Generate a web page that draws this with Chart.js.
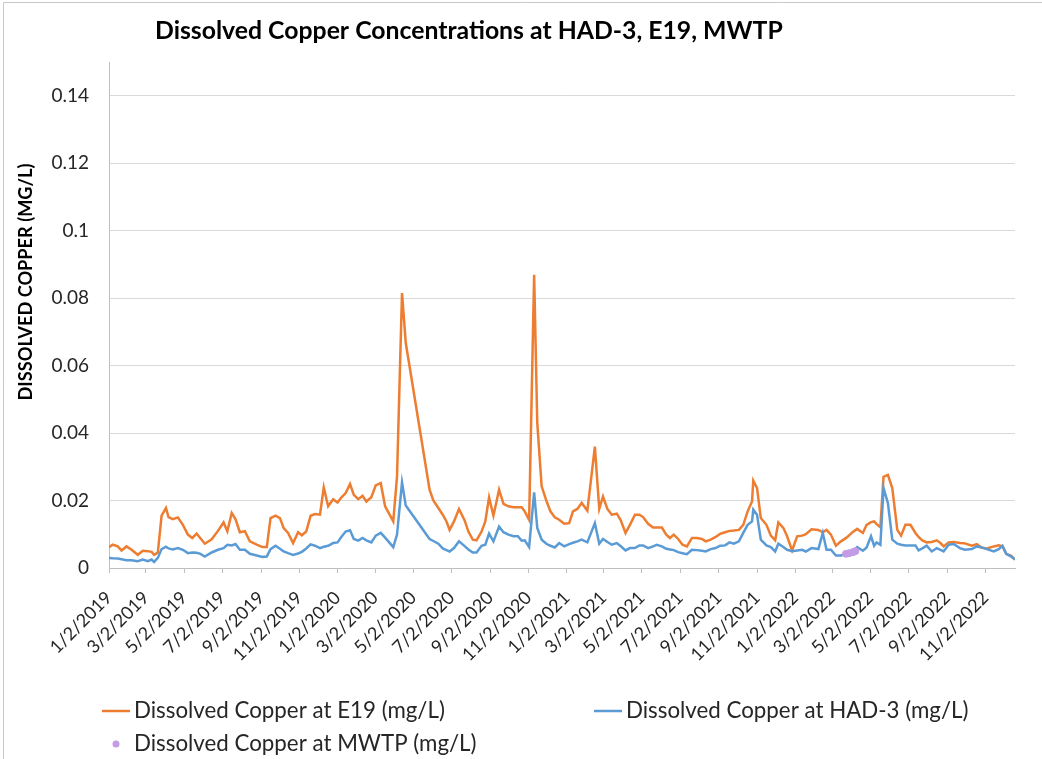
<!DOCTYPE html>
<html><head><meta charset="utf-8">
<script src="https://cdn.jsdelivr.net/npm/chart.js@4.4.1/dist/chart.umd.min.js"></script>
<style>html,body{margin:0;padding:0;background:#fff;} #wrap{width:1042px;height:759px;position:relative;}</style>
</head><body><div id="wrap"><canvas id="c" width="1042" height="759"></canvas></div>
<script>
const sampleDates = [
"2019-01-02","2019-01-08","2019-01-16","2019-01-22","2019-01-30","2019-02-07","2019-02-17","2019-02-25","2019-03-05","2019-03-11",
"2019-03-15","2019-03-21","2019-03-27","2019-04-03","2019-04-07","2019-04-14","2019-04-22","2019-04-30","2019-05-08","2019-05-15",
"2019-05-22","2019-05-28","2019-06-04","2019-06-15","2019-06-25","2019-07-04","2019-07-10","2019-07-17","2019-07-23","2019-07-30",
"2019-08-07","2019-08-15","2019-08-26","2019-09-04","2019-09-11","2019-09-17","2019-09-25","2019-10-02","2019-10-08","2019-10-15",
"2019-10-23","2019-10-31","2019-11-06","2019-11-13","2019-11-20","2019-11-27","2019-12-05","2019-12-11","2019-12-18","2019-12-26",
"2020-01-02","2020-01-08","2020-01-15","2020-01-22","2020-01-28","2020-02-04","2020-02-11","2020-02-17","2020-02-25","2020-03-03",
"2020-03-11","2020-03-18","2020-03-31","2020-04-06","2020-04-14","2020-04-20","2020-05-28","2020-06-03","2020-06-11","2020-06-18",
"2020-06-24","2020-06-29","2020-07-06","2020-07-14","2020-07-23","2020-07-29","2020-08-05","2020-08-11","2020-08-19","2020-08-25",
"2020-08-31","2020-09-07","2020-09-16","2020-09-23","2020-10-01","2020-10-09","2020-10-16","2020-10-22","2020-10-27","2020-11-03",
"2020-11-11","2020-11-16","2020-11-23","2020-12-01","2020-12-07","2020-12-14","2020-12-21","2020-12-29","2021-01-06","2021-01-12",
"2021-01-19","2021-01-26","2021-02-04","2021-02-16","2021-02-23","2021-03-01","2021-03-08","2021-03-15","2021-03-23","2021-03-29",
"2021-04-06","2021-04-13","2021-04-21","2021-04-28","2021-05-04","2021-05-12","2021-05-20","2021-05-26","2021-06-03","2021-06-10",
"2021-06-16","2021-06-22","2021-06-29","2021-07-06","2021-07-13","2021-07-21","2021-07-29","2021-08-06","2021-08-12","2021-08-20",
"2021-08-28","2021-09-04","2021-09-12","2021-09-19","2021-09-26","2021-10-04","2021-10-11","2021-10-18","2021-10-25","2021-10-27",
"2021-11-02","2021-11-08","2021-11-17","2021-11-24","2021-12-01","2021-12-06","2021-12-14","2021-12-20","2021-12-28","2022-01-05",
"2022-01-13","2022-01-19","2022-01-28","2022-02-08","2022-02-15","2022-02-21","2022-02-28","2022-03-08","2022-03-16","2022-03-25",
"2022-04-04","2022-04-11","2022-04-20","2022-04-26","2022-05-03","2022-05-08","2022-05-12","2022-05-18","2022-05-23","2022-05-30",
"2022-06-06","2022-06-14","2022-06-20","2022-06-27","2022-07-05","2022-07-13","2022-07-18","2022-07-24","2022-07-31","2022-08-08",
"2022-08-16","2022-08-22","2022-08-27","2022-09-04","2022-09-12","2022-09-22","2022-09-30","2022-10-11","2022-10-19","2022-10-27",
"2022-11-04","2022-11-15","2022-11-23","2022-11-29","2022-12-05","2022-12-13","2022-12-19"
];
const copperE19 = [
0.0062,0.0069,0.0064,0.0052,0.0064,0.0054,0.0039,0.0051,0.0050,0.0048,
0.0039,0.0046,0.0155,0.0178,0.0151,0.0145,0.0150,0.0128,0.0099,0.0089,
0.0102,0.0088,0.0072,0.0085,0.0110,0.0135,0.0109,0.0163,0.0145,0.0106,
0.0109,0.0079,0.0069,0.0062,0.0062,0.0148,0.0155,0.0148,0.0118,0.0104,
0.0074,0.0106,0.0097,0.0108,0.0155,0.0160,0.0158,0.0239,0.0183,0.0204,
0.0194,0.0209,0.0222,0.0249,0.0217,0.0204,0.0214,0.0197,0.0210,0.0245,
0.0252,0.0183,0.0138,0.0271,0.0815,0.0667,0.0232,0.0200,0.0178,0.0158,
0.0138,0.0113,0.0138,0.0175,0.0141,0.0108,0.0084,0.0082,0.0108,0.0138,
0.0209,0.0155,0.0232,0.0190,0.0183,0.0180,0.0180,0.0180,0.0168,0.0143,
0.0869,0.0430,0.0242,0.0197,0.0168,0.0150,0.0143,0.0131,0.0133,0.0168,
0.0175,0.0193,0.0170,0.0360,0.0175,0.0212,0.0175,0.0158,0.0161,0.0143,
0.0104,0.0128,0.0158,0.0158,0.0151,0.0131,0.0120,0.0120,0.0120,0.0099,
0.0089,0.0099,0.0086,0.0069,0.0064,0.0089,0.0089,0.0086,0.0079,0.0084,
0.0092,0.0101,0.0106,0.0110,0.0111,0.0113,0.0128,0.0168,0.0197,0.0259,
0.0237,0.0148,0.0128,0.0096,0.0082,0.0135,0.0119,0.0094,0.0052,0.0094,
0.0096,0.0100,0.0115,0.0113,0.0106,0.0113,0.0099,0.0066,0.0079,0.0090,
0.0107,0.0116,0.0104,0.0128,0.0136,0.0138,0.0130,0.0121,0.0270,0.0276,
0.0237,0.0113,0.0096,0.0128,0.0128,0.0104,0.0092,0.0082,0.0076,0.0077,
0.0082,0.0074,0.0064,0.0076,0.0077,0.0074,0.0073,0.0066,0.0071,0.0060,
0.0058,0.0064,0.0067,0.0064,0.0042,0.0036,0.0025
];
const copperHAD3 = [
0.0030,0.0029,0.0028,0.0026,0.0023,0.0023,0.0020,0.0025,0.0020,0.0025,
0.0018,0.0030,0.0056,0.0063,0.0058,0.0055,0.0059,0.0054,0.0044,0.0046,
0.0045,0.0042,0.0034,0.0046,0.0054,0.0059,0.0069,0.0067,0.0071,0.0054,
0.0054,0.0042,0.0037,0.0033,0.0034,0.0056,0.0066,0.0057,0.0049,0.0044,
0.0039,0.0043,0.0048,0.0058,0.0070,0.0066,0.0059,0.0063,0.0066,0.0074,
0.0076,0.0092,0.0108,0.0112,0.0086,0.0081,0.0089,0.0082,0.0076,0.0096,
0.0104,0.0090,0.0062,0.0099,0.0254,0.0185,0.0086,0.0080,0.0072,0.0058,
0.0053,0.0049,0.0059,0.0079,0.0065,0.0055,0.0046,0.0046,0.0066,0.0069,
0.0102,0.0079,0.0123,0.0106,0.0099,0.0094,0.0094,0.0081,0.0082,0.0062,
0.0224,0.0119,0.0084,0.0071,0.0066,0.0061,0.0074,0.0064,0.0071,0.0075,
0.0079,0.0084,0.0076,0.0133,0.0072,0.0086,0.0077,0.0069,0.0074,0.0065,
0.0052,0.0059,0.0059,0.0067,0.0067,0.0059,0.0064,0.0069,0.0064,0.0057,
0.0055,0.0053,0.0047,0.0044,0.0041,0.0054,0.0053,0.0051,0.0049,0.0056,
0.0059,0.0066,0.0067,0.0076,0.0072,0.0079,0.0104,0.0128,0.0138,0.0173,
0.0158,0.0084,0.0067,0.0062,0.0049,0.0072,0.0062,0.0054,0.0050,0.0052,
0.0054,0.0049,0.0059,0.0056,0.0104,0.0054,0.0054,0.0037,0.0037,0.0042,
0.0049,0.0062,0.0051,0.0061,0.0094,0.0066,0.0076,0.0069,0.0237,0.0193,
0.0084,0.0072,0.0069,0.0067,0.0067,0.0067,0.0052,0.0058,0.0066,0.0049,
0.0059,0.0054,0.0049,0.0069,0.0071,0.0059,0.0054,0.0056,0.0064,0.0061,
0.0056,0.0049,0.0056,0.0066,0.0042,0.0034,0.0025
];
const mwtpDates = ["2022-03-24","2022-03-29","2022-04-04","2022-04-08"];
const copperMWTP = [0.0042,0.0044,0.0047,0.0050];
const xTickLabels = ["1/2/2019","3/2/2019","5/2/2019","7/2/2019","9/2/2019","11/2/2019",
"1/2/2020","3/2/2020","5/2/2020","7/2/2020","9/2/2020","11/2/2020",
"1/2/2021","3/2/2021","5/2/2021","7/2/2021","9/2/2021","11/2/2021",
"1/2/2022","3/2/2022","5/2/2022","7/2/2022","9/2/2022","11/2/2022"];
const seriesNames = ["Dissolved Copper at E19 (mg/L)","Dissolved Copper at HAD-3 (mg/L)","Dissolved Copper at MWTP (mg/L)"];
const chartTitle = "Dissolved Copper Concentrations at HAD-3, E19, MWTP";
const yAxisTitle = "DISSOLVED COPPER (MG/L)";

const BASE = Date.UTC(2019,0,2);
function isoDay(s){const p=s.split('-').map(Number);return (Date.UTC(p[0],p[1]-1,p[2])-BASE)/864e5;}
function mdyDay(s){const p=s.split('/').map(Number);return (Date.UTC(p[2],p[0]-1,p[1])-BASE)/864e5;}

const ORANGE='#ED7D31', BLUE='#5B9BD5', PURPLE='#C39BE6';
const FONT='Lato';

function fitSize(ctx,text,weight,target){
  ctx.font=weight+' 20px '+FONT;
  const w=ctx.measureText(text).width;
  return 20*target/w;
}

const decor={
  id:'decor',
  afterDraw(chart){
    const ctx=chart.ctx;
    ctx.save();
    ctx.strokeStyle='#c8c8c8';ctx.lineWidth=1;
    ctx.beginPath();ctx.moveTo(3.5,759);ctx.lineTo(3.5,2.5);ctx.lineTo(1042,2.5);ctx.stroke();
    let s=fitSize(ctx,chartTitle,'bold',628);
    ctx.font='bold '+s+'px '+FONT;ctx.fillStyle='#000';ctx.textAlign='left';ctx.textBaseline='middle';
    ctx.fillText(chartTitle,155,31);
    s=fitSize(ctx,yAxisTitle,'bold',237);
    ctx.save();ctx.translate(26,282);ctx.rotate(-Math.PI/2);
    ctx.font='bold '+s+'px '+FONT;ctx.textAlign='center';ctx.fillStyle='#000';
    ctx.fillText(yAxisTitle,0,0);ctx.restore();
    s=fitSize(ctx,seriesNames[0],'normal',311);
    ctx.font=s+'px '+FONT;ctx.fillStyle='#262626';ctx.textAlign='left';ctx.textBaseline='middle';
    const items=[{x:102,y:711,c:ORANGE,t:'line'},{x:594,y:711,c:BLUE,t:'line'},{x:102,y:744,c:PURPLE,t:'dot'}];
    items.forEach((it,i)=>{
      if(it.t==='line'){ctx.strokeStyle=it.c;ctx.lineWidth=2.5;ctx.beginPath();ctx.moveTo(it.x,it.y);ctx.lineTo(it.x+28,it.y);ctx.stroke();}
      else{ctx.fillStyle=it.c;ctx.beginPath();ctx.arc(it.x+14,it.y,3.5,0,Math.PI*2);ctx.fill();ctx.fillStyle='#262626';}
      ctx.fillText(seriesNames[i],it.x+32,it.y);
    });
    ctx.restore();
  }
};

const toPts=(ds,vs)=>ds.map((d,i)=>({x:isoDay(d),y:vs[i]}));

new Chart(document.getElementById('c'),{
  type:'line',
  data:{datasets:[
    {label:seriesNames[0],data:toPts(sampleDates,copperE19),borderColor:ORANGE,borderWidth:2.5,pointRadius:0,tension:0,order:2},
    {label:seriesNames[1],data:toPts(sampleDates,copperHAD3),borderColor:BLUE,borderWidth:2.5,pointRadius:0,tension:0,order:1},
    {label:seriesNames[2],data:toPts(mwtpDates,copperMWTP),showLine:false,pointRadius:3.5,pointBackgroundColor:PURPLE,pointBorderColor:PURPLE,borderColor:PURPLE,backgroundColor:PURPLE,order:0}
  ]},
  options:{
    responsive:false,animation:false,devicePixelRatio:1,
    layout:{padding:{top:62,right:27,left:0,bottom:0}},
    plugins:{legend:{display:false},title:{display:false},tooltip:{enabled:false}},
    scales:{
      x:{type:'linear',min:isoDay(sampleDates[0]),max:isoDay(sampleDates[sampleDates.length-1]),
        afterBuildTicks:(sc)=>{sc.ticks=xTickLabels.map(l=>({value:mdyDay(l)}));},
        afterFit:(sc)=>{sc.height=759-568;},
        ticks:{autoSkip:false,maxRotation:45,minRotation:45,padding:14,color:'#262626',font:{family:FONT,size:18},
          callback:(v,i)=>xTickLabels[i]},
        grid:{drawOnChartArea:false,drawTicks:true,tickLength:5,color:'#bfbfbf'},
        border:{color:'#bfbfbf'}
      },
      y:{min:0,max:0.15,afterFit:(sc)=>{sc.width=109;},
        ticks:{stepSize:0.02,includeBounds:false,padding:20,color:'#262626',font:{family:FONT,size:19},
          callback:(v)=>String(+v.toFixed(2))},
        grid:{color:'#d9d9d9',drawTicks:false},
        border:{color:'#bfbfbf'}
      }
    }
  },
  plugins:[decor]
});
</script></body></html>
